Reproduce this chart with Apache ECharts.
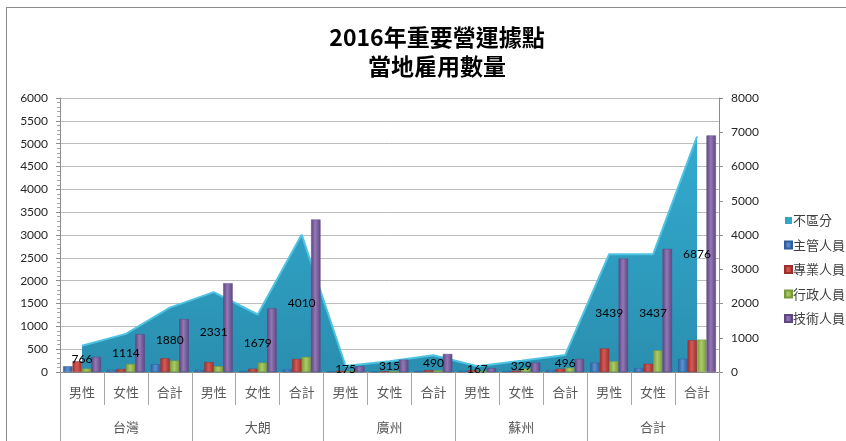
<!DOCTYPE html>
<html>
<head>
<meta charset="utf-8">
<script src="https://cdn.jsdelivr.net/npm/echarts@6/dist/echarts.min.js"></script>
<style>
html,body{margin:0;padding:0;background:#fff;}
#c{width:846px;height:441px;}
</style>
</head>
<body>
<div id="c"></div>
<script>
var categories = ['男性','女性','合計','男性','女性','合計','男性','女性','合計','男性','女性','合計','男性','女性','合計'];
var groups = ['台灣','大朗','廣州','蘇州','合計'];
var seriesNames = ['不區分','主管人員','專業人員','行政人員','技術人員'];
var totalVals = [766,1114,1880,2331,1679,4010,175,315,490,167,329,496,3439,3437,6876];
var mgrVals  = [125,45,170, 45,10,55, 10,10,20, 25,20,45, 205,85,290];
var proVals  = [235,65,300, 215,70,285, 25,15,40, 40,30,70, 515,180,695];
var admVals  = [75,175,250, 125,205,330, 15,20,35, 20,75,95, 235,475,710];
var techVals = [331,829,1160, 1946,1394,3340, 125,270,395, 82,204,286, 2484,2697,5181];

var chart = echarts.init(document.getElementById('c'), null, {renderer:'canvas'});
function hgrad(dark, light){
  return new echarts.graphic.LinearGradient(0,0,1,0,[
    {offset:0,color:dark},{offset:0.45,color:light},{offset:1,color:dark}]);
}
var barColors = [
  ['#2f5e9a','#5b8fd0'],
  ['#9c2f2c','#d45a56'],
  ['#7a9a3a','#aacb66'],
  ['#5e4681','#9278b6']
];
var barData = [mgrVals, proVals, admVals, techVals];
var cjk = '"Noto Sans CJK TC", "Noto Sans", sans-serif';
var num = 'Lato, "Noto Sans", sans-serif';

var series = [{
  name: seriesNames[0], type:'line', xAxisIndex:0, yAxisIndex:1,
  data: totalVals, symbol:'none', z:1,
  itemStyle:{color:'#31a6c8'},
  lineStyle:{color:'#4fc3e2', width:2},
  areaStyle:{opacity:1, color:new echarts.graphic.LinearGradient(0,0,0,1,[
    {offset:0,color:'#33abcf'},{offset:1,color:'#2a8fb0'}])}
}];
for (var i=0;i<4;i++){
  series.push({
    name: seriesNames[i+1], type:'bar', xAxisIndex:0, yAxisIndex:0, z:2,
    data: barData[i], barGap:'0%', barCategoryGap:'14%',
    itemStyle:{color:hgrad(barColors[i][0], barColors[i][1]), borderColor:barColors[i][0], borderWidth:0.5}
  });
}
series.push({
  type:'bar', xAxisIndex:2, yAxisIndex:1, z:5, data: totalVals, barWidth:20,
  itemStyle:{color:'rgba(0,0,0,0)'}, silent:true,
  label:{show:true, position:'inside', color:'#000', fontSize:12, fontFamily:num}
});

function plain(v){ return String(v); }

chart.setOption({
  animation:false,
  title:{
    text:'2016年重要營運據點\n當地雇用數量',
    left:432, top:18, textAlign:'center',
    textStyle:{fontFamily:cjk, fontSize:23, fontWeight:'bold', color:'#000', lineHeight:29}
  },
  legend:{
    orient:'vertical', left:779, top:209, itemWidth:7, itemHeight:7, itemGap:11.5,
    icon:'rect', data:seriesNames,
    textStyle:{fontFamily:cjk, fontSize:13, color:'#404040', padding:[0,0,0,-4]}
  },
  grid:{left:60, right:127, top:98, bottom:69},
  xAxis:[{
    type:'category', data:categories, position:'bottom',
    axisLine:{show:true, lineStyle:{color:'#8c8c8c'}},
    axisTick:{show:true, interval:0, length:33, lineStyle:{color:'#a6a6a6'}},
    axisLabel:{interval:0, margin:14, fontFamily:cjk, fontSize:13, color:'#595959'}
  },{
    type:'category', data:groups, position:'bottom',
    axisLine:{show:false},
    axisTick:{show:true, interval:0, length:70, lineStyle:{color:'#a6a6a6'}},
    axisLabel:{interval:0, margin:49, fontFamily:cjk, fontSize:13, color:'#595959'}
  },{
    type:'category', data:categories, show:false
  }],
  yAxis:[{
    type:'value', min:0, max:6000, interval:500, position:'left',
    axisLine:{show:true, lineStyle:{color:'#8c8c8c'}},
    axisTick:{show:true, length:4, lineStyle:{color:'#8c8c8c'}},
    minorTick:{show:true, splitNumber:5, length:3, lineStyle:{color:'#a6a6a6'}},
    splitLine:{show:true, lineStyle:{color:'#bdbdbd', width:1}},
    axisLabel:{margin:12, fontFamily:num, fontSize:12, color:'#262626', formatter:plain}
  },{
    type:'value', min:0, max:8000, interval:1000, position:'right',
    axisLine:{show:true, lineStyle:{color:'#8c8c8c'}},
    axisTick:{show:true, length:4, lineStyle:{color:'#8c8c8c'}},
    splitLine:{show:false},
    axisLabel:{margin:12, fontFamily:num, fontSize:12, color:'#262626', formatter:plain}
  }],
  graphic:[
    {type:'line', shape:{x1:6.5,y1:7,x2:6.5,y2:441}, style:{stroke:'#8c8c8c', lineWidth:1}},
    {type:'line', shape:{x1:6,y1:7.5,x2:846,y2:7.5}, style:{stroke:'#8c8c8c', lineWidth:1}}
  ],
  series: series
});
</script>
</body>
</html>
